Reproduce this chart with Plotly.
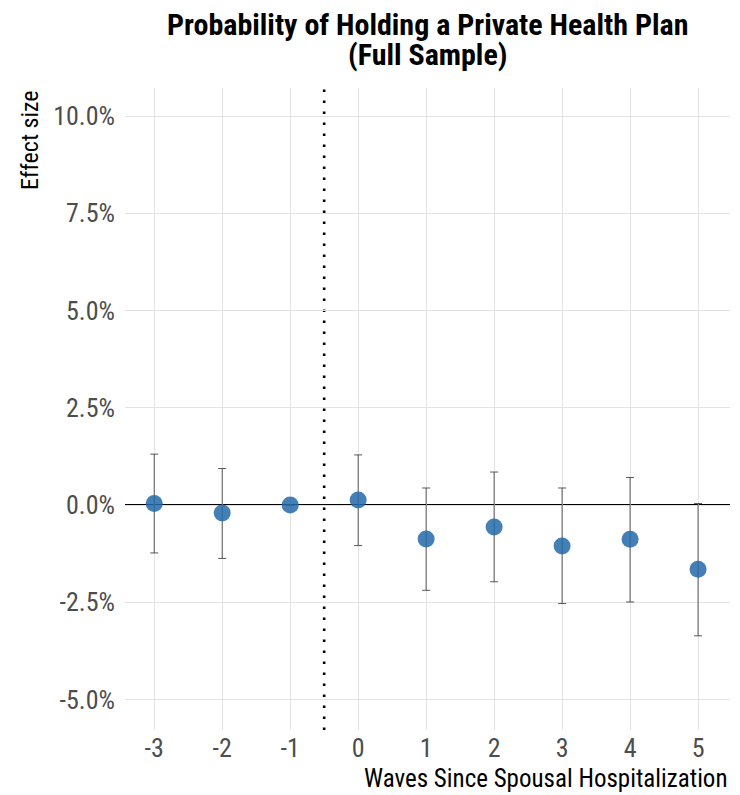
import plotly.graph_objects as go

waves = [-3, -2, -1, 0, 1, 2, 3, 4, 5]
estimate = [0.04, -0.20, 0.00, 0.13, -0.87, -0.56, -1.05, -0.88, -1.65]
ci_upper = [1.31, 0.94, 0.00, 1.29, 0.44, 0.85, 0.44, 0.71, 0.04]
ci_lower = [-1.23, -1.37, 0.00, -1.04, -2.19, -1.97, -2.53, -2.49, -3.36]
y_ticks = [-5.0, -2.5, 0.0, 2.5, 5.0, 7.5, 10.0]
y_ticktext = ["-5.0%", "-2.5%", "0.0%", "2.5%", "5.0%", "7.5%", "10.0%"]
x_ticktext = ["-3", "-2", "-1", "0", "1", "2", "3", "4", "5"]
title_lines = ["Probability of Holding a Private Health Plan", "(Full Sample)"]

FONT = "Liberation Sans Narrow, Arial Narrow, Roboto Condensed, sans-serif"

err_plus = [u - e for u, e in zip(ci_upper, estimate)]
err_minus = [e - l for e, l in zip(estimate, ci_lower)]
has_ci = [u != l for u, l in zip(ci_upper, ci_lower)]
err_plus = [p if h else None for p, h in zip(err_plus, has_ci)]
err_minus = [m if h else None for m, h in zip(err_minus, has_ci)]

fig = go.Figure()
fig.add_hline(y=0, line=dict(color="black", width=2), layer="below")
fig.add_vline(x=-0.5, line=dict(color="black", width=2.6, dash="2.6px,8.4px"), layer="below")

fig.add_trace(go.Scatter(
    x=waves, y=estimate, mode="markers",
    marker=dict(color="rgba(35,106,168,0.85)", size=17, line=dict(width=0)),
    error_y=dict(type="data", symmetric=False, array=err_plus, arrayminus=err_minus,
                 color="rgba(60,60,60,0.85)", thickness=1, width=4),
    showlegend=False,
))

# Page body has an 8px default margin, so the figure is 8px smaller than the window.
fig.update_layout(
    width=732, height=787,
    margin=dict(l=117, r=10, t=80, b=65),
    plot_bgcolor="white", paper_bgcolor="white",
    font=dict(family=FONT, size=26, color="#4d4d4d"),
    xaxis=dict(range=[-3.43, 5.47], tickvals=waves, ticktext=x_ticktext,
               showgrid=True, gridcolor="#e3e3e3", gridwidth=1, zeroline=False,
               showline=False, ticks="", ticklabelstandoff=0,
               tickfont=dict(size=26, color="#4d4d4d")),
    yaxis=dict(range=[-5.78, 10.72], tickvals=y_ticks, ticktext=y_ticktext,
               showgrid=True, gridcolor="#e3e3e3", gridwidth=1, zeroline=False,
               showline=False, ticks="", ticklabelstandoff=9,
               tickfont=dict(size=26, color="#4d4d4d")),
    annotations=[
        dict(text="<b>" + title_lines[0] + "</b>", xref="paper", yref="paper",
             x=0.5, y=1, xanchor="center", yanchor="middle", yshift=64, showarrow=False,
             font=dict(family=FONT, size=30, color="black")),
        dict(text="<b>" + title_lines[1] + "</b>", xref="paper", yref="paper",
             x=0.5, y=1, xanchor="center", yanchor="middle", yshift=34, showarrow=False,
             font=dict(family=FONT, size=30, color="black")),
        dict(text="Waves Since Spousal Hospitalization", xref="paper", yref="paper",
             x=1.0, y=0, xanchor="right", yanchor="middle", yshift=-48, showarrow=False,
             font=dict(family=FONT, size=25, color="black")),
        dict(text="Effect size", xref="paper", yref="paper", x=0, y=1.0, xshift=-95,
             xanchor="center", yanchor="top", textangle=-90, showarrow=False,
             font=dict(family=FONT, size=24, color="black")),
    ],
)

fig.write_html("out.html")
